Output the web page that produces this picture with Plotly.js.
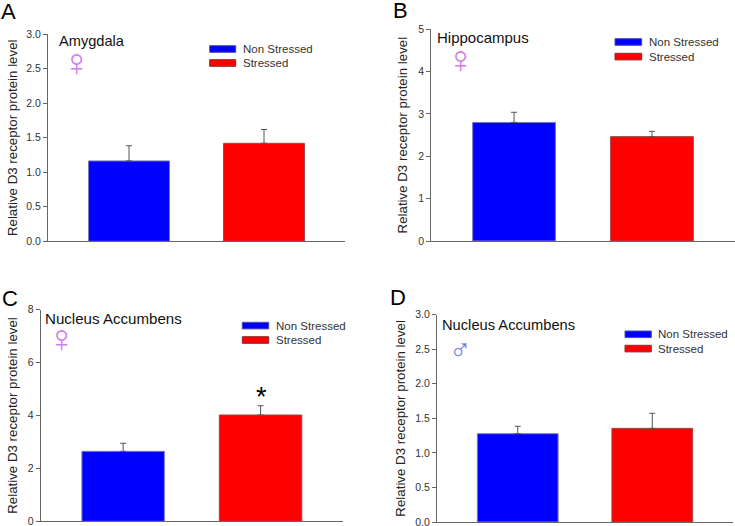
<!DOCTYPE html>
<html><head><meta charset="utf-8">
<script src="https://cdn.plot.ly/plotly-3.0.1.min.js"></script>
<style>html,body{margin:0;padding:0;background:#fff;overflow:hidden}#c{width:735px;height:526px;overflow:hidden}</style>
</head><body><div id="c"></div>
<script>
const groups = ["Non Stressed", "Stressed"];
const barColors = ["#0000ff", "#ff0000"];
const barEdges = ["#7a7ac0", "#a04848"];
const meanA = [1.165, 1.42],  errA = [0.22, 0.20];
const meanB = [2.80, 2.465],  errB = [0.24, 0.125];
const meanC = [2.645, 4.02],  errC = [0.305, 0.35];
const meanD = [1.278, 1.355], errD = [0.107, 0.218];
const rangeA = [0, 3], rangeB = [0, 5], rangeC = [0, 8], rangeD = [0, 3];
const dtickA = 0.5, dtickB = 1, dtickC = 2, dtickD = 0.5;
const yLabel = "Relative D3 receptor protein level";
const W = 735, H = 550;
const FONT = '"Liberation Sans", Arial, sans-serif';
const panels = [
 {k:'', letter:'A', lx:-1.5,  ly:11, mean:meanA, err:errA, range:rangeA, dtick:dtickA, fmt:'.1f', box:[48,345,34.3,241.3], title:'Amygdala', tx:57, ty:41.5, ts:14.6, sym:'♀', ss:39, sx:76, sy:62.5, sc:'#d47cec', leg:[209.7,235.7,45.7,59.7,240.8], stand:5},
 {k:'2', letter:'B', lx:390.5,ly:10, mean:meanB, err:errB, range:rangeB, dtick:dtickB, fmt:'d', box:[431.3,734.7,29.3,241], title:'Hippocampus', tx:435,ty:37.5, ts:15, sym:'♀', ss:39, sx:460, sy:59.5, sc:'#d47cec', leg:[615,641.7,38.7,53.3,646.8], stand:7},
 {k:'3', letter:'C', lx:-0.5,  ly:298,mean:meanC, err:errC, range:rangeC, dtick:dtickC, fmt:'d', box:[40.7,343,309.7,521.3], title:'Nucleus Accumbens', tx:43,ty:318.5, ts:15.1, sym:'♀', ss:39, sx:62, sy:338.5, sc:'#d47cec', leg:[242.3,268.7,322.3,336.7,273.8], stand:7},
 {k:'4', letter:'D', lx:387.5,ly:297,mean:meanD, err:errD, range:rangeD, dtick:dtickD, fmt:'.1f', box:[437,733,314.7,522], title:'Nucleus Accumbens', tx:440,ty:324.5, ts:14.7, sym:'♂', ss:30, sx:460, sy:349, sc:'#7878e4', leg:[625,651.3,331,345.3,656.2], stand:6},
];
const px = x => x / W, py = y => 1 - y / H;
const data = [], shapes = [], annotations = [];
const layout = {width:W, height:H, margin:{l:0,r:0,t:0,b:0}, paper_bgcolor:'#fff', plot_bgcolor:'#fff',
  showlegend:false, bargap:0.4, font:{family:FONT, color:'#333'}};
const text = (t,x,y,size,color,family,anchor) => annotations.push({text:t, x:px(x), y:py(y), xref:'paper', yref:'paper',
  xanchor:anchor||'left', yanchor:'middle', showarrow:false, font:{size, color, family:family||FONT}});
panels.forEach(p => {
  data.push({type:'bar', x:[0,1], y:p.mean, width:0.6, xaxis:'x'+p.k, yaxis:'y'+p.k, hoverinfo:'y',
    marker:{color:barColors, line:{color:barEdges, width:1}},
    error_y:{type:'data', array:p.err, arrayminus:[0,0], symmetric:false, color:'#555', thickness:1, width:3}});
  const [l,r,t,b] = p.box;
  layout['xaxis'+p.k] = {domain:[px(l),px(r)], range:[-0.6,1.6], anchor:'y'+p.k, showgrid:false, zeroline:false,
    showline:true, linecolor:'#666', linewidth:1, ticks:'', showticklabels:false, fixedrange:true};
  layout['yaxis'+p.k] = {domain:[py(b),py(t)], range:p.range, dtick:p.dtick, tick0:0, tickformat:p.fmt, anchor:'x'+p.k,
    showgrid:false, zeroline:false, showline:true, linecolor:'#666', linewidth:1, ticks:'outside', ticklen:4, tickcolor:'#666',
    tickfont:{size:10.5, color:'#333', family:FONT}, fixedrange:true,
    title:{text:yLabel, standoff:p.stand, font:{size:13.3, color:'#222', family:FONT}}};
  text(p.letter, p.lx, p.ly, 22, '#000');
  text(p.title, p.tx, p.ty, p.ts, '#111');
  text(p.sym, p.sx, p.sy, p.ss, p.sc, FONT, 'center');
  const [a,c,y1,y2,tx] = p.leg;
  [y1,y2].forEach((y,i) => {
    shapes.push({type:'rect', xref:'paper', yref:'paper', x0:px(a), x1:px(c), y0:py(y), y1:py(y+6.6),
      fillcolor:barColors[i], line:{color:i? '#8c2c2c':'#4a4ab0', width:1}});
    text(groups[i], tx, y+3.3, 11.5, '#333');
  });
});
text('*', 261.7, 397, 27, '#000', FONT, 'center');
layout.shapes = shapes; layout.annotations = annotations;
Plotly.newPlot('c', data, layout, {displayModeBar:false, staticPlot:true});
</script></body></html>
